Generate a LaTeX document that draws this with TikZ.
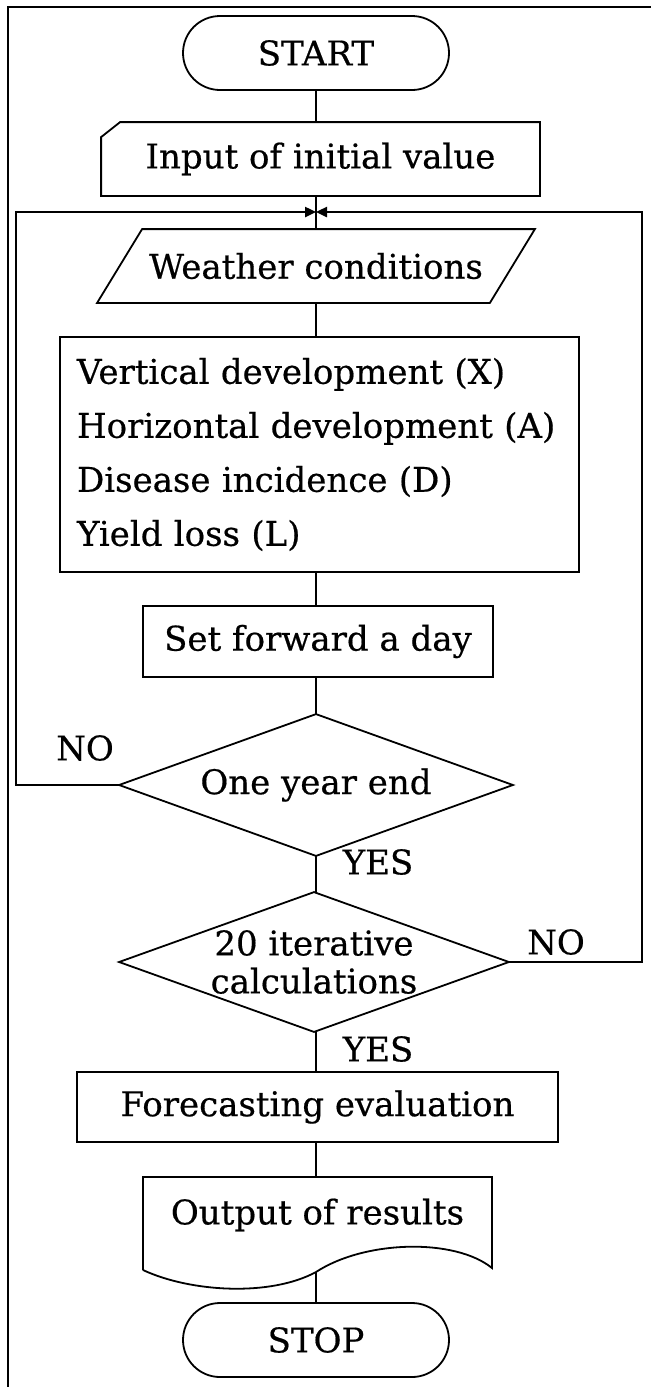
\documentclass[tikz,border=0pt]{standalone}
\usepackage{fontspec}
\setmainfont{DejaVu Serif}
\newfontfamily\heavyserif{DejaVu Serif}[FakeBold=0.5]
\usetikzlibrary{shapes.misc,arrows.meta}
\begin{document}
\begin{tikzpicture}[x=1pt,y=-1pt,line width=1.8pt,
  txt/.style={font=\heavyserif\fontsize{34}{54}\selectfont,inner sep=0pt},
  term/.style={txt,draw,rounded rectangle,minimum width=266pt,minimum height=74pt},
  proc/.style={txt,draw,rectangle},
  ghost/.style={txt,rectangle},
  conn/.style={line width=1.8pt},
  loopline/.style={line width=2.4pt,-{Triangle[length=11pt,width=10pt]}},
  lbl/.style={font=\heavyserif\fontsize{34}{36}\selectfont,inner sep=0pt}]
\useasboundingbox (0,0) rectangle (651,1387);
\fill[white] (0,0) rectangle (651,1387);
% outer frame
\draw[line width=2.2pt] (8,1387) -- (8,7) -- (651,7);

% nodes
\node[term] (start) at (316,53) {START};
\node[ghost,minimum width=437pt,minimum height=72pt] (input) at (320.5,159) {Input of initial value};
\draw ([xshift=19pt]input.north west) -- (input.north east) -- (input.south east)
      -- (input.south west) -- ([yshift=-15pt]input.north west) -- cycle;

\node[ghost,minimum width=436pt,minimum height=72pt] (weather) at (316,266) {Weather conditions};
\draw ([xshift=45pt]weather.north west) -- (weather.north east)
      -- ([xshift=-45pt]weather.south east) -- (weather.south west) -- cycle;

\node[proc,minimum width=519pt,minimum height=235pt,text width=485pt,align=left] (calc) at (319.5,454.5)
  {Vertical development (X)\\Horizontal development (A)\\Disease incidence (D)\\Yield loss (L)};

\node[proc,minimum width=350pt,minimum height=71pt] (fwd) at (318,641.5) {Set forward a day};

\node[ghost,minimum width=392pt,minimum height=140pt] (d1) at (316,785) {One year end};
\draw (d1.north) -- (d1.east) -- (d1.south) -- (d1.west) -- cycle;

\node[ghost,minimum width=388pt,minimum height=138pt,align=center,font=\heavyserif\fontsize{34}{38}\selectfont] (d2) at (314,962) {20 iterative\\calculations};
\draw (d2.north) -- (d2.east) -- (d2.south) -- (d2.west) -- cycle;

\node[proc,minimum width=481pt,minimum height=70pt] (fore) at (317.5,1107) {Forecasting evaluation};

\node[ghost,minimum width=349pt,minimum height=76pt] (out) at (317.5,1215) {Output of results};
\coordinate (wave) at (316,1272);
\draw (143,1270) -- (143,1177) -- (492,1177) -- (492,1268)
      .. controls (455,1238) and (365,1240) .. (wave)
      .. controls (270,1297) and (190,1292) .. (143,1270);

\node[term] (stop) at (316,1340) {STOP};

% labels
\node[lbl] (no1) at (85,748) {NO};
\node[lbl] (yes1) at (378,862) {YES};
\node[lbl] (no2) at (556,942) {NO};
\node[lbl] (yes2) at (378,1049) {YES};

% connectors
\coordinate (jn) at (316,212);
\coordinate (loopL) at (16,212);
\coordinate (loopR) at (642,212);
\draw[conn] (start.south) -- (start.south |- input.north);
\draw[conn] (start.south |- input.south) -- (start.south |- weather.north);
\draw[conn] (weather.south) -- (weather.south |- calc.north);
\draw[conn] (weather.south |- calc.south) -- (weather.south |- fwd.north);
\draw[conn] (weather.south |- fwd.south) -- (d1.north);
\draw[conn] (d1.south) -- (d1.south |- d2.north);
\draw[conn] (d1.south |- d2.south) -- (d1.south |- fore.north);
\draw[conn] (d1.south |- fore.south) -- (d1.south |- out.north);
\draw[conn] (wave) -- (stop.north);
\draw[loopline] (d1.west) -| (loopL) -- (jn);
\draw[loopline] (d2.east) -| (loopR) -- (jn);
\end{tikzpicture}
\end{document}
